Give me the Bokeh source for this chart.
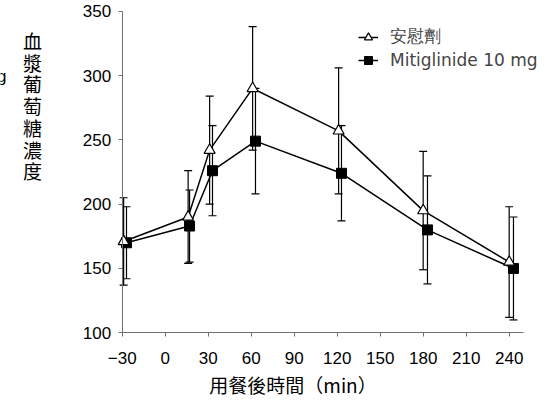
from bokeh.plotting import figure
from bokeh.models import (Whisker, TeeHead, ColumnDataSource, Legend, LegendItem,
                          Label, FixedTicker, Range1d)
from bokeh.embed import file_html
from bokeh.resources import INLINE
import numpy as np

# ---- data ----
placebo_t = [-29, 16, 31, 61, 121, 180, 240]
placebo_v = [171, 190, 242, 290, 257, 195, 155]
placebo_sd = [34, 36, 42, 48, 49, 46, 43]

miti_t = [-27, 17, 33, 63, 123, 183, 243]
miti_v = [170, 183, 226, 249, 224, 180, 150]
miti_sd = [28, 28, 35, 41, 37, 42, 40]

x_ticks = [-30, 0, 30, 60, 90, 120, 150, 180, 210, 240]
y_ticks = [100, 150, 200, 250, 300, 350]

placebo_label = "安慰劑"
miti_label = "Mitiglinide 10 mg"
x_title = "用餐後時間（min）"
y_title = "血漿葡萄糖濃度"
unit_text = "mg"

# ---- layout: frame covers whole canvas, axes drawn at fixed locations ----
W, H = 550, 404
X0, X1 = -30, 250          # axis extent
Y0, Y1 = 100, 350
ax_left, ax_right = 121.7, 523.0   # pixel positions of axis extent
ax_bottom, ax_top = 332.3, 10.7

kx = (ax_right - ax_left) / (X1 - X0)
ky = (ax_bottom - ax_top) / (Y1 - Y0)
xr = Range1d(X0 - ax_left / kx, X1 + (W - ax_right) / kx)
yr = Range1d(Y0 - (H - ax_bottom) / ky, Y1 + ax_top / ky)

def dx(px):
    return X0 + (px - ax_left) / kx

def dy(py):
    return Y0 + (ax_bottom - py) / ky

p = figure(width=W, height=H, x_range=xr, y_range=yr,
           output_backend="svg", toolbar_location=None,
           min_border=0, min_border_left=0, min_border_right=0,
           min_border_top=0, min_border_bottom=0)
p.grid.visible = False
p.outline_line_color = None

axis_color = "#707070"
for ax in (p.xaxis, p.yaxis):
    ax.axis_line_color = axis_color
    ax.major_tick_line_color = axis_color
    ax.minor_tick_line_color = None
    ax.major_tick_in = 0
    ax.major_tick_out = 4
    ax.major_label_text_font = "Liberation Sans"
    ax.major_label_text_font_size = "17px"
    ax.major_label_text_color = "black"

p.xaxis.ticker = FixedTicker(ticks=x_ticks)
p.xaxis.major_label_overrides = {-30: "\u221230"}
p.xaxis.major_label_standoff = 15
p.xaxis.bounds = (X0, X1)
p.xaxis.fixed_location = Y0
p.yaxis.ticker = FixedTicker(ticks=y_ticks)
p.yaxis.major_label_standoff = 7
p.yaxis.bounds = (Y0, Y1)
p.yaxis.fixed_location = X0

# ---- error bars ----
def add_whisker(t, v, sd):
    v = np.array(v, dtype=float)
    sd = np.array(sd, dtype=float)
    src = ColumnDataSource(dict(t=t, hi=v + sd, lo=v - sd))
    w = Whisker(base="t", upper="hi", lower="lo", source=src,
                line_color="black", line_width=1.2,
                upper_head=TeeHead(size=8, line_color="black", line_width=1.2),
                lower_head=TeeHead(size=8, line_color="black", line_width=1.2))
    p.add_layout(w)

add_whisker(placebo_t, placebo_v, placebo_sd)
add_whisker(miti_t, miti_v, miti_sd)

# ---- series ----
l1 = p.line(placebo_t, placebo_v, line_color="black", line_width=1.5)
l2 = p.line(miti_t, miti_v, line_color="black", line_width=1.5)
s2 = p.scatter(miti_t, miti_v, marker="square", size=10, fill_color="black", line_color="black")
s1 = p.scatter(placebo_t, placebo_v, marker="triangle", size=11, fill_color="white",
               line_color="black", line_width=1.2)

legend = Legend(items=[LegendItem(label=placebo_label, renderers=[l1, s1]),
                       LegendItem(label=miti_label, renderers=[l2, s2])],
                location=(358, H - 70), padding=0, margin=0, spacing=2,
                glyph_width=20, glyph_height=20, label_height=20, label_standoff=12,
                label_text_font="DejaVu Sans", label_text_font_size="17px",
                border_line_color=None, background_fill_alpha=0)
p.add_layout(legend)

# ---- axis titles ----
p.add_layout(Label(x=dx(292.5), y=dy(384), text=x_title, text_align="center",
                   text_baseline="middle", text_font="Noto Sans CJK TC",
                   text_font_size="19px", text_color="black"))

for i, ch in enumerate(y_title):
    p.add_layout(Label(x=dx(32), y=dy(40 + 21.7 * i), text=ch, text_align="center",
                       text_baseline="middle", text_font="Noto Sans CJK TC",
                       text_font_size="19px", text_color="black"))

p.add_layout(Label(x=dx(6), y=dy(76), text=unit_text, text_align="right",
                   text_baseline="middle", text_font="Liberation Sans",
                   text_font_size="17px", text_color="black"))

open("out.html", "w").write(file_html(p, INLINE))
